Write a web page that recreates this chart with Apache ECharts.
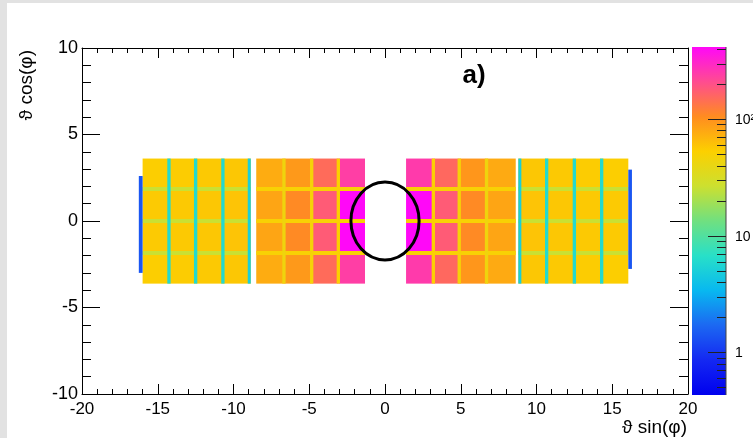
<!DOCTYPE html>
<html><head><meta charset="utf-8">
<script src="https://cdn.jsdelivr.net/npm/echarts@6/dist/echarts.min.js"></script>
<style>html,body{margin:0;padding:0;background:#fff}#c{width:753px;height:438px}</style>
</head><body><div id="c"></div>
<script>
// ---- crystal geometry (data units) ----
const colX0 = [-16.0, -14.26, -12.5, -10.7, -8.5, -6.67, -4.84, -3.08, 1.39, 3.19, 4.9, 6.7, 8.8, 10.67, 12.5, 14.3];
const colX1 = [-14.26, -12.5, -10.7, -8.86, -6.67, -4.84, -3.08, -1.32, 3.19, 4.9, 6.7, 8.63, 10.67, 12.5, 14.3, 16.06];
const rowY0 = [-3.62, -1.85, 0.0, 1.85];
const rowY1 = [-1.85, 0.0, 1.85, 3.61];
// ---- counts per crystal (rows bottom -> top) ----
const countsRow0 = [54, 55, 57, 58, 76, 92, 150, 240, 250, 155, 95, 78, 58, 57, 55, 54];
const countsRow1 = [56, 57, 58, 60, 82, 108, 178, 480, 480, 178, 108, 82, 60, 58, 57, 56];
const countsRow2 = [56, 57, 58, 60, 82, 108, 178, 480, 480, 178, 108, 82, 60, 58, 57, 56];
const countsRow3 = [54, 55, 57, 58, 76, 92, 150, 240, 250, 155, 95, 78, 58, 57, 55, 54];
// ---- blocks and gap lines between crystals ----
const blockX0 = [-16.0, -8.5, 1.39, 8.8];
const blockX1 = [-8.86, -1.32, 8.63, 16.06];
const hGapY = [-1.85, 0.0, 1.85];
const hGapCounts = [26, 50, 50, 26];
const vGapX0 = [-14.37, -12.61, -10.81, -9.06, -6.78, -4.95, -3.19, 3.08, 4.79, 6.59, 8.8, 10.56, 12.39, 14.19];
const vGapX1 = [-14.15, -12.39, -10.59, -8.86, -6.56, -4.73, -2.97, 3.30, 5.01, 6.81, 9.0, 10.78, 12.61, 14.41];
const vGapCounts = [6, 6, 6, 5, 44, 48, 52, 52, 48, 44, 5, 6, 6, 6];
// ---- edge strips ----
const stripX0 = [-16.25, 16.06];
const stripX1 = [-16.0, 16.3];
const stripY0 = [-3.0, -2.77];
const stripY1 = [2.6, 2.97];
const stripCounts = [1.4, 1.4];
// ---- ellipse ----
const ringCenter = [0, 0];
const ringRadius = 2.25;
// ---- colour scale ----
const zMin = 0.43, zMax = 416;
const palette = ['#0000ee', '#1428f2', '#1c68f2', '#08b8f0', '#28e0c8', '#70e080', '#cce030', '#fcd000', '#ff8c20', '#ff4c90', '#ff08f8'];
const cbMajor = [1, 10, 100];
const cbMajorLabels = ['1', '10', '10²'];
const cbMinor = [0.5, 0.6, 0.7, 0.8, 0.9, 2, 3, 4, 5, 6, 7, 8, 9, 20, 30, 40, 50, 60, 70, 80, 90, 200, 300, 400];
// axis ticks
const xTicks = { min: -20, max: 20, interval: 5 };
const yTicks = { min: -10, max: 10, interval: 5 };

const lzMin = Math.log10(zMin), lzMax = Math.log10(zMax);
function lz(v) { return Math.min(Math.max(Math.log10(v), lzMin), lzMax); }

const rects = [];
const rowsCounts = [countsRow0, countsRow1, countsRow2, countsRow3];
for (let r = 0; r < 4; r++) for (let c = 0; c < colX0.length; c++)
  rects.push([colX0[c], colX1[c], rowY0[r], rowY1[r], lz(rowsCounts[r][c])]);
for (let b = 0; b < blockX0.length; b++) for (const y of hGapY)
  rects.push([blockX0[b], blockX1[b], y - 0.11, y + 0.11, lz(hGapCounts[b])]);
for (let i = 0; i < vGapX0.length; i++)
  rects.push([vGapX0[i], vGapX1[i], rowY0[0], rowY1[3], lz(vGapCounts[i])]);
for (let i = 0; i < stripX0.length; i++)
  rects.push([stripX0[i], stripX1[i], stripY0[i], stripY1[i], lz(stripCounts[i])]);

const chart = echarts.init(document.getElementById('c'), null, { renderer: 'canvas' });
const FONT = '"Liberation Sans", Arial, Helvetica, sans-serif';
const axisCommon = {
  type: 'value', splitLine: { show: false },
  axisLine: { show: true, onZero: false, lineStyle: { color: '#000', width: 1 } },
};
const stops = palette.map((c, i) => ({ offset: i / (palette.length - 1), color: c }));

const option = {
  backgroundColor: '#ffffff',
  animation: false,
  grid: [
    { left: 82, top: 48, width: 606, height: 346 },
    { left: 692, top: 47, width: 34, height: 348 }
  ],
  xAxis: [
    Object.assign({}, axisCommon, { gridIndex: 0, position: 'bottom', min: xTicks.min, max: xTicks.max, interval: xTicks.interval,
      axisTick: { inside: true, length: 10, lineStyle: { color: '#000' } },
      minorTick: { show: true, splitNumber: 5, length: 5, lineStyle: { color: '#000' } },
      axisLabel: { fontFamily: FONT, fontSize: 17, color: '#000', margin: 7 } }),
    Object.assign({}, axisCommon, { gridIndex: 0, position: 'top', min: xTicks.min, max: xTicks.max, interval: xTicks.interval,
      axisTick: { inside: true, length: 10, lineStyle: { color: '#000' } },
      minorTick: { show: true, splitNumber: 5, length: 5, lineStyle: { color: '#000' } },
      axisLabel: { show: false } }),
    { gridIndex: 1, type: 'value', min: 0, max: 1, show: false }
  ],
  yAxis: [
    Object.assign({}, axisCommon, { gridIndex: 0, position: 'left', min: yTicks.min, max: yTicks.max, interval: yTicks.interval,
      axisTick: { inside: true, length: 18, lineStyle: { color: '#000' } },
      minorTick: { show: true, splitNumber: 5, length: 9, lineStyle: { color: '#000' } },
      axisLabel: { fontFamily: FONT, fontSize: 18, color: '#000', margin: 4 } }),
    Object.assign({}, axisCommon, { gridIndex: 0, position: 'right', min: yTicks.min, max: yTicks.max, interval: yTicks.interval,
      axisTick: { inside: true, length: 18, lineStyle: { color: '#000' } },
      minorTick: { show: true, splitNumber: 5, length: 9, lineStyle: { color: '#000' } },
      axisLabel: { show: false } }),
    { gridIndex: 1, type: 'log', logBase: 10, min: zMin, max: zMax, show: false }
  ],
  visualMap: {
    show: false, type: 'continuous', seriesIndex: 0, dimension: 4,
    min: lzMin, max: lzMax, inRange: { color: palette }
  },
  series: [
    {
      type: 'custom', xAxisIndex: 0, yAxisIndex: 0, data: rects,
      encode: { x: [0, 1], y: [2, 3] },
      renderItem: function (params, api) {
        const p0 = api.coord([api.value(0), api.value(3)]);
        const p1 = api.coord([api.value(1), api.value(2)]);
        return { type: 'rect', shape: { x: p0[0], y: p0[1], width: p1[0] - p0[0], height: p1[1] - p0[1] },
          style: { fill: api.visual('color') } };
      }
    },
    {
      type: 'custom', xAxisIndex: 0, yAxisIndex: 0, data: [[ringCenter[0], ringCenter[1], ringRadius]],
      encode: { x: 0, y: 1 }, z: 5,
      renderItem: function (params, api) {
        const cx = api.value(0), cy = api.value(1), r = api.value(2);
        const c = api.coord([cx, cy]);
        const px = api.coord([cx + r, cy]);
        const py = api.coord([cx, cy + r]);
        const rx = px[0] - c[0], ry = c[1] - py[1];
        const d = 'M' + (c[0] - rx) + ' ' + c[1] + ' A' + rx + ' ' + ry + ' 0 1 0 ' + (c[0] + rx) + ' ' + c[1] +
          ' A' + rx + ' ' + ry + ' 0 1 0 ' + (c[0] - rx) + ' ' + c[1] + ' Z';
        return { type: 'path', shape: { pathData: d }, style: { fill: null, stroke: '#000', lineWidth: 3 } };
      }
    },
    {
      type: 'custom', xAxisIndex: 2, yAxisIndex: 2, data: [[0, zMin, 1, zMax]],
      encode: { x: [0, 2], y: [1, 3] },
      renderItem: function (params, api) {
        const a = api.coord([api.value(0), api.value(3)]);
        const b = api.coord([api.value(2), api.value(1)]);
        return { type: 'group', children: [
          { type: 'rect', shape: { x: a[0], y: a[1], width: b[0] - a[0], height: b[1] - a[1] },
            style: { fill: new echarts.graphic.LinearGradient(0, 1, 0, 0, stops) } },
          { type: 'line', shape: { x1: b[0], y1: a[1], x2: b[0], y2: b[1] }, style: { stroke: '#444', lineWidth: 1 } }
        ] };
      }
    },
    {
      type: 'custom', xAxisIndex: 2, yAxisIndex: 2,
      data: cbMinor.map(v => [1, v, 9, -1]).concat(cbMajor.map((v, i) => [1, v, 18, i])),
      encode: { x: 0, y: 1 },
      renderItem: function (params, api) {
        const p = api.coord([api.value(0), api.value(1)]);
        const len = api.value(2), li = api.value(3);
        const y = Math.round(p[1]) + 0.5;
        const kids = [{ type: 'line', shape: { x1: p[0] - len, y1: y, x2: p[0], y2: y }, style: { stroke: '#222', lineWidth: 1 } }];
        if (li >= 0) kids.push({ type: 'text', x: p[0] + 9, y: p[1] + 1,
          style: { text: cbMajorLabels[li], fontFamily: FONT, fontSize: 14, fill: '#000', align: 'left', verticalAlign: 'middle' } });
        return { type: 'group', children: kids };
      }
    }
  ],
  graphic: [
    { type: 'rect', shape: { x: 0, y: 0, width: 753, height: 3 }, style: { fill: '#e2e2e2' }, silent: true },
    { type: 'rect', shape: { x: 0, y: 0, width: 7, height: 438 }, style: { fill: '#e2e2e2' }, silent: true },
    { type: 'text', x: 27, y: 50, rotation: Math.PI / 2,
      style: { text: 'ϑ cos(φ)', fontFamily: FONT, fontSize: 19, fill: '#000', align: 'right', verticalAlign: 'middle' } },
    { type: 'text', x: 687, y: 428,
      style: { text: 'ϑ sin(φ)', fontFamily: FONT, fontSize: 19, fill: '#000', align: 'right', verticalAlign: 'middle' } },
    { type: 'text', x: 474, y: 76,
      style: { text: 'a)', fontFamily: FONT, fontSize: 26, fontWeight: 'bold', fill: '#000', align: 'center', verticalAlign: 'middle' } }
  ]
};
chart.setOption(option);
</script>
</body></html>
